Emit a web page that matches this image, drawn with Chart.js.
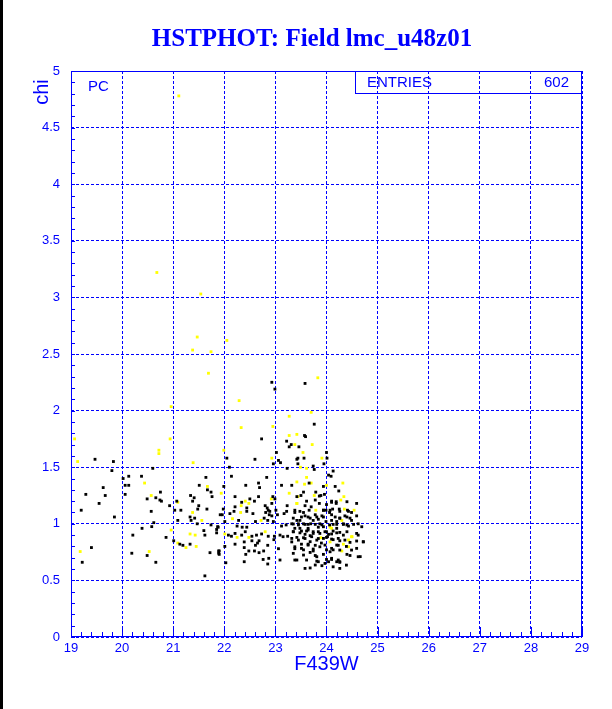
<!DOCTYPE html>
<html>
<head>
<meta charset="utf-8">
<script src="https://cdn.jsdelivr.net/npm/chart.js@4/dist/chart.umd.min.js"></script>
<style>
body { margin: 0; background: #fff; }
canvas { display: block; }
</style>
</head>
<body>
<canvas id="chiChart" width="612" height="709"></canvas>
<script>
// Valores (F439W x chi)
const blackF439W = [
    19.47,19.83,19.80,20.60,20.13,20.02,20.38,20.06,20.13,19.63,19.29,19.67,20.06,19.55,19.20,19.85,20.49,20.75,20.66,20.74,20.77,20.93,20.57,20.62,21.07,21.03,21.15,21.09,21.34,21.41,21.38,21.51,21.64,21.67,21.74,21.76,21.50,21.48,21.66,21.33,21.42,21.35,21.47,21.92,21.74,21.87,21.85,21.60,21.62,20.39,20.58,20.21,20.86,21.13,21.19,21.33,21.01,20.19,20.49,20.66,19.40,19.22,21.72,21.89,21.89,21.62,
    22.93,22.99,22.73,23.22,23.27,23.02,22.05,22.60,23.06,23.10,22.10,22.96,23.23,
    23.58,23.76,23.57,23.59,23.31,23.46,24.00,23.44,23.42,23.56,24.01,23.44,23.95,23.74,23.76,
    22.83,22.14,21.99,22.42,22.67,23.12,22.69,22.21,22.67,22.95,22.50,22.59,22.34,22.93,22.44,22.80,22.84,22.86,22.89,22.81,21.98,22.19,22.44,22.56,21.96,22.88,22.93,22.11,23.22,22.78,22.85,22.01,22.28,22.61,22.96,22.25,22.35,22.44,23.12,23.21,21.88,22.99,23.01,23.04,23.17,23.23,22.21,23.32,
    24.13,24.04,24.09,23.66,23.94,24.17,24.24,23.79,23.55,23.89,23.96,23.50,24.10,23.42,24.19,24.00,23.70,23.58,23.94,24.06,24.12,24.25,24.49,24.41,23.38,23.55,23.64,23.81,23.94,24.17,24.26,24.40,23.48,23.74,23.99,24.10,24.20,23.35,23.45,23.58,23.69,23.91,24.13,24.33,24.40,24.62,23.84,24.20,23.64,24.49,24.59,
    21.85,22.08,22.14,22.21,22.34,22.41,22.54,22.63,22.73,22.86,22.98,23.09,23.15,23.24,22.21,22.01,22.39,22.39,22.54,22.68,22.65,22.85,22.97,23.06,22.61,22.48,22.59,22.68,22.77,22.42,21.90,21.90,22.87,22.76,22.03,22.39,23.09,22.85,
    23.35,23.48,23.61,23.74,23.87,24.00,24.10,24.20,24.33,24.62,23.42,23.58,23.71,23.84,24.00,24.13,24.26,23.32,23.51,23.64,23.78,23.90,24.23,24.39,24.72,23.38,23.55,23.74,24.00,24.13,24.46,24.66,23.38,23.78,23.81,23.97,24.10,24.20,24.26,23.68,24.39,24.00,
    23.86,23.61,23.78,23.86,24.10,24.19,24.40,23.94,23.99,23.38,23.48,23.66,24.07,24.26,24.43,
    23.35,23.51,23.58,23.68,23.78,23.91,24.10,24.26,24.36,24.46,23.42,23.84,24.59,
    23.32,23.45,23.55,23.64,23.78,23.87,23.94,24.06,24.20,24.33,24.43,24.53,24.69,23.48,23.38,
    23.35,23.51,23.64,23.74,23.84,23.97,24.04,24.13,24.26,24.40,24.59,23.58,23.68,
    23.32,23.45,23.55,23.68,23.81,23.94,24.02,24.10,24.23,24.36,24.46,24.59,24.72,
    23.38,23.51,23.64,23.74,23.87,23.97,24.10,24.20,24.26,24.49,24.59,24.07,
    23.35,23.55,23.68,23.81,23.94,24.10,24.23,24.40,24.62,23.42,23.61,23.84,24.04,24.26,
    23.78,23.91,24.13,24.26,23.58
];
const blackChi = [
    1.57,1.55,1.47,1.49,1.42,1.40,1.42,1.34,1.34,1.32,1.26,1.25,1.26,1.18,1.12,1.06,1.22,1.28,1.23,1.21,1.20,1.16,1.11,1.01,1.20,1.12,1.12,1.03,1.25,1.23,1.20,1.34,1.41,1.30,1.28,1.24,1.16,1.13,1.13,1.06,1.05,1.03,1.00,1.08,0.99,0.975,0.95,0.94,0.90,0.96,0.975,0.90,0.88,0.82,0.81,0.82,0.85,0.74,0.72,0.66,0.79,0.66,0.745,0.76,0.74,0.54,
    2.25,2.19,1.75,1.73,1.68,1.63,1.58,1.57,1.56,1.54,1.50,1.53,1.49,
    2.24,1.88,1.78,1.77,1.70,1.68,1.63,1.58,1.57,1.58,1.58,1.53,1.53,1.51,1.48,
    1.41,1.42,1.33,1.34,1.36,1.34,1.32,1.24,1.24,1.24,1.22,1.20,1.19,1.18,1.14,1.16,1.14,1.12,1.11,1.10,1.13,1.11,1.11,1.09,1.08,1.08,1.07,1.09,1.11,1.05,1.03,1.02,1.03,1.02,1.02,0.98,0.97,0.97,0.98,0.99,0.97,1.22,1.12,1.08,1.09,1.16,1.15,1.34,
    1.466,1.43,1.42,1.36,1.33,1.33,1.29,1.28,1.28,1.25,1.26,1.25,1.20,1.24,1.18,1.17,1.15,1.16,1.12,1.10,1.13,1.13,1.10,1.12,1.10,1.10,1.06,1.06,1.06,1.06,1.05,1.06,1.03,1.03,1.02,1.03,1.02,0.998,1.00,0.995,1.00,0.99,0.995,0.995,0.99,1.00,0.97,0.96,0.96,1.03,1.18,
    0.92,0.90,0.89,0.915,0.90,0.93,0.89,0.90,0.91,0.89,0.89,0.90,0.886,0.89,0.82,0.80,0.84,0.79,0.85,0.85,0.83,0.81,0.86,0.78,0.81,0.76,0.76,0.745,0.76,0.73,0.76,0.73,0.695,0.685,0.656,0.665,0.68,0.645,
    0.93,0.92,0.936,0.93,0.915,0.93,0.91,0.92,0.90,0.90,0.88,0.87,0.886,0.87,0.88,0.86,0.85,0.84,0.82,0.82,0.81,0.83,0.81,0.80,0.84,0.78,0.77,0.76,0.77,0.77,0.72,0.71,0.68,0.72,0.67,0.65,0.685,0.665,0.66,0.61,0.635,0.685,
    1.245,1.20,1.21,1.18,1.19,1.195,1.195,1.12,1.12,1.12,1.11,1.12,1.12,1.11,1.11,
    1.05,1.06,1.07,1.05,1.08,1.07,1.08,1.05,1.07,1.05,1.03,1.04,1.07,
    1.00,0.99,1.00,0.995,0.995,1.00,0.974,0.99,0.995,1.00,0.98,0.995,0.974,0.96,0.96,
    0.93,0.936,0.945,0.915,0.93,0.93,0.907,0.936,0.924,0.93,0.915,0.907,0.895,
    0.871,0.856,0.877,0.842,0.856,0.871,0.886,0.865,0.871,0.856,0.836,0.848,0.842,
    0.797,0.783,0.812,0.777,0.797,0.812,0.783,0.812,0.768,0.768,0.783,0.753,
    0.739,0.724,0.747,0.709,0.73,0.695,0.68,0.73,0.709,0.68,0.68,0.665,0.665,0.665,
    0.636,0.63,0.62,0.606,0.606
];
const yellowF439W = [
    21.11,20.68,21.54,21.47,22.05,
    21.38,21.74,21.69,20.96,19.07,20.94,20.72,20.72,19.13,21.39,20.44,20.57,21.67,21.38,21.56,20.96,21.33,21.43,21.09,21.25,21.45,19.18,20.53,21.09,
    22.29,23.27,22.33,22.95,23.27,21.99,22.93,
    23.83,23.70,23.42,23.38,23.72,23.54,23.91,23.49,23.61,
    21.94,23.27,22.41,22.48,22.33,22.32,22.16,22.72,22.92,
    23.61,23.57,23.70,23.42,24.00,24.32,23.44,23.76,23.42,24.34,24.28,23.79,24.35,24.54,24.30,24.07,
    22.01,22.25,22.48,22.80,
    24.50,24.43,24.33,24.30,24.07,
    23.42,24.10,24.49,23.89,24.43
];
const yellowChi = [
    4.78,3.22,3.03,2.65,2.62,
    2.535,2.52,2.33,2.035,1.75,1.75,1.65,1.62,1.55,1.54,1.36,1.25,1.33,1.10,1.03,0.945,0.91,0.90,0.83,0.79,0.80,0.755,0.755,1.19,
    2.088,1.95,1.85,1.86,1.78,1.65,1.58,
    2.29,1.985,1.79,1.70,1.70,1.63,1.58,1.50,1.49,
    1.27,1.27,1.20,1.18,1.16,1.10,1.045,1.03,1.22,
    1.41,1.35,1.36,1.37,1.34,1.36,1.24,1.25,1.18,1.24,1.21,1.12,1.13,1.12,1.03,0.97,
    0.91,0.88,0.88,0.93,
    0.886,0.857,0.82,0.76,0.84,
    1.18,0.96,0.886,0.877,0.797
];

// Eixos e textos
const xRange = [19, 29];
const yRange = [0, 5];
const titleText = 'HSTPHOT: Field lmc_u48z01';
const xLabel = 'F439W';
const yLabel = 'chi';
const entriesCount = 602;

const BLUE = '#0000ff';

function toPoints(xs, ys) {
    return xs.map((x, i) => ({ x: x, y: ys[i] }));
}

// Plugin para fundo, título, moldura, marcas menores e caixa de estatística
const decorPlugin = {
    id: 'decor',
    beforeDraw(chart) {
        const ctx = chart.ctx;
        ctx.save();
        ctx.fillStyle = '#fff';
        ctx.fillRect(0, 0, chart.width, chart.height);
        ctx.restore();
    },
    afterDraw(chart) {
        const ctx = chart.ctx;
        const a = chart.chartArea;
        const sx = chart.scales.x;
        const sy = chart.scales.y;
        ctx.save();

        // borda preta à esquerda
        ctx.fillStyle = '#000';
        ctx.fillRect(0, 0, 3, chart.height);

        // título
        ctx.fillStyle = BLUE;
        ctx.font = 'bold 25px "Liberation Serif"';
        ctx.textAlign = 'center';
        ctx.textBaseline = 'middle';
        ctx.fillText(titleText, 312, 40);

        // títulos dos eixos
        ctx.font = '20px "Liberation Sans"';
        ctx.fillText(xLabel, (a.left + a.right) / 2, 664);
        ctx.save();
        ctx.translate(42, 92);
        ctx.rotate(-Math.PI / 2);
        ctx.fillText(yLabel, 0, 0);
        ctx.restore();

        // moldura
        ctx.strokeStyle = BLUE;
        ctx.lineWidth = 1;
        ctx.strokeRect(a.left + 0.5, a.top + 0.5, a.right - a.left - 1, a.bottom - a.top - 1);

        // marcas menores
        ctx.beginPath();
        for (let v = xRange[0]; v <= xRange[1] + 1e-9; v += 0.2) {
            const px = Math.round(sx.getPixelForValue(v)) + 0.5;
            const len = Math.abs(v - Math.round(v)) < 1e-6 ? 10 : 5;
            ctx.moveTo(px, a.bottom);
            ctx.lineTo(px, a.bottom - len);
        }
        for (let v = yRange[0]; v <= yRange[1] + 1e-9; v += 0.1) {
            const py = Math.round(sy.getPixelForValue(v)) + 0.5;
            ctx.moveTo(a.left, py);
            ctx.lineTo(a.left + 4, py);
        }
        ctx.stroke();

        // caixa de estatística
        ctx.strokeRect(355.5, a.top + 0.5, a.right - 356, 22);
        ctx.font = '15px "Liberation Sans"';
        ctx.textAlign = 'left';
        ctx.fillText('ENTRIES', 367, a.top + 12);
        ctx.textAlign = 'right';
        ctx.fillText(String(entriesCount), 569, a.top + 12);

        // rótulo PC
        ctx.textAlign = 'left';
        ctx.fillText('PC', 88, 87);

        ctx.restore();
    }
};

document.addEventListener('DOMContentLoaded', function() {
    const canvas = document.getElementById('chiChart');
    new Chart(canvas, {
        type: 'scatter',
        data: {
            datasets: [{
                label: 'PC',
                data: toPoints(blackF439W, blackChi),
                backgroundColor: '#000',
                pointStyle: 'rect',
                pointRadius: 2,
                borderWidth: 0
            }, {
                label: 'PC (amarelo)',
                data: toPoints(yellowF439W, yellowChi),
                backgroundColor: '#ffff00',
                pointStyle: 'rect',
                pointRadius: 2,
                borderWidth: 0
            }]
        },
        options: {
            responsive: false,
            animation: false,
            layout: { padding: { top: 71, right: 30, left: 0, bottom: 0 } },
            plugins: { legend: { display: false }, tooltip: { enabled: false } },
            scales: {
                x: {
                    type: 'linear',
                    min: xRange[0],
                    max: xRange[1],
                    afterFit: function(s) { s.height = 72; },
                    ticks: {
                        stepSize: 1, autoSkip: false, maxRotation: 0, padding: 4,
                        color: BLUE, font: { family: 'Liberation Sans', size: 13 }
                    },
                    grid: { color: BLUE, lineWidth: 1, drawTicks: false },
                    border: { display: false, dash: [3, 2] }
                },
                y: {
                    type: 'linear',
                    min: yRange[0],
                    max: yRange[1],
                    afterFit: function(s) { s.width = 71; },
                    ticks: {
                        stepSize: 0.5, autoSkip: false, padding: 11,
                        color: BLUE, font: { family: 'Liberation Sans', size: 13 },
                        callback: function(v) { return String(v); }
                    },
                    grid: { color: BLUE, lineWidth: 1, drawTicks: false },
                    border: { display: false, dash: [3, 2] }
                }
            }
        },
        plugins: [decorPlugin]
    });
});
</script>
</body>
</html>
